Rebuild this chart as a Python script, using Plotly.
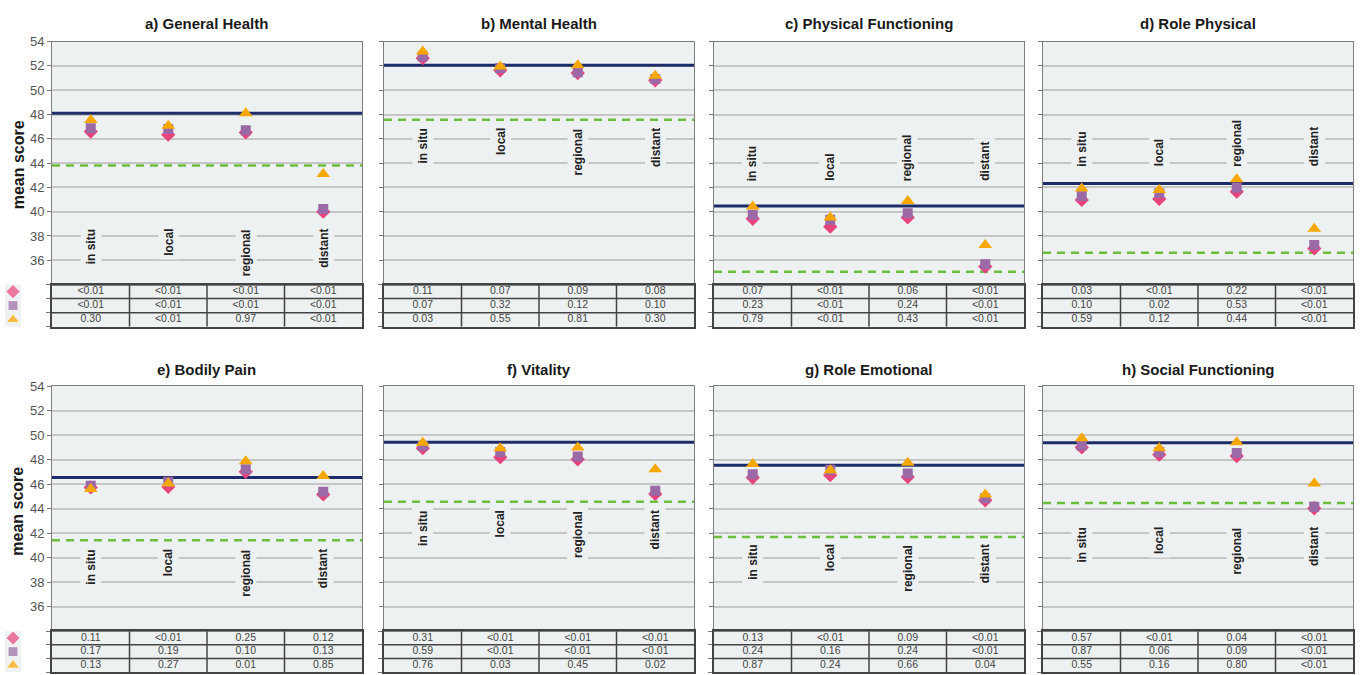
import plotly.graph_objects as go

categories = ["in situ", "local", "regional", "distant"]
panel_titles = ["a) General Health", "b) Mental Health", "c) Physical Functioning", "d) Role Physical",
                "e) Bodily Pain", "f) Vitality", "g) Role Emotional", "h) Social Functioning"]

navy_ref = [48.1, 52.05, 40.48, 42.32, 46.54, 49.42, 47.53, 49.37]
green_ref = [43.8, 47.57, 35.05, 36.62, 41.42, 44.57, 41.68, 44.46]

diamond_vals = [
    [46.6, 46.34, 46.53, 40.0],
    [52.64, 51.64, 51.42, 50.82],
    [39.42, 38.77, 39.53, 35.48],
    [40.97, 41.05, 41.65, 36.98],
    [45.73, 45.78, 47.0, 45.16],
    [48.93, 48.2, 48.02, 45.2],
    [46.54, 46.73, 46.59, 44.68],
    [48.99, 48.4, 48.29, 44.03],
]
square_vals = [
    [46.86, 46.8, 46.7, 40.23],
    [52.78, 51.83, 51.47, 50.93],
    [39.75, 39.34, 39.88, 35.67],
    [41.29, 41.51, 41.97, 37.25],
    [45.86, 46.19, 47.21, 45.38],
    [49.1, 48.61, 48.26, 45.46],
    [46.8, 47.18, 46.86, 44.84],
    [49.15, 48.61, 48.53, 44.16],
]
triangle_vals = [
    [47.54, 47.08, 48.1, 43.1],
    [53.19, 51.96, 52.05, 51.2],
    [40.42, 39.53, 40.89, 37.25],
    [41.92, 41.78, 42.68, 38.6],
    [45.6, 46.05, 47.86, 46.67],
    [49.37, 48.93, 48.99, 47.21],
    [47.64, 47.13, 47.75, 45.16],
    [49.74, 48.93, 49.42, 46.05],
]

p_diamond = [
    ["<0.01", "<0.01", "<0.01", "<0.01"],
    ["0.11", "0.07", "0.09", "0.08"],
    ["0.07", "<0.01", "0.06", "<0.01"],
    ["0.03", "<0.01", "0.22", "<0.01"],
    ["0.11", "<0.01", "0.25", "0.12"],
    ["0.31", "<0.01", "<0.01", "<0.01"],
    ["0.13", "<0.01", "0.09", "<0.01"],
    ["0.57", "<0.01", "0.04", "<0.01"],
]
p_square = [
    ["<0.01", "<0.01", "<0.01", "<0.01"],
    ["0.07", "0.32", "0.12", "0.10"],
    ["0.23", "<0.01", "0.24", "<0.01"],
    ["0.10", "0.02", "0.53", "<0.01"],
    ["0.17", "0.19", "0.10", "0.13"],
    ["0.59", "<0.01", "<0.01", "<0.01"],
    ["0.24", "0.16", "0.24", "<0.01"],
    ["0.87", "0.06", "0.09", "<0.01"],
]
p_triangle = [
    ["0.30", "<0.01", "0.97", "<0.01"],
    ["0.03", "0.55", "0.81", "0.30"],
    ["0.79", "<0.01", "0.43", "<0.01"],
    ["0.59", "0.12", "0.44", "<0.01"],
    ["0.13", "0.27", "0.01", "0.85"],
    ["0.76", "0.03", "0.45", "0.02"],
    ["0.87", "0.24", "0.66", "0.04"],
    ["0.55", "0.16", "0.80", "<0.01"],
]

y_ticks = [34, 36, 38, 40, 42, 44, 46, 48, 50, 52, 54]
y_tick_labels = ["", "36", "38", "40", "42", "44", "46", "48", "50", "52", "54"]

# ---- layout / style (not data) ----
W, H = 1362, 675
FONT = "Liberation Sans, Arial, sans-serif"
BG = "#EEF1F1"
C_DIAMOND = "#E8437D"
C_SQUARE = "#9B6AA6"
C_TRIANGLE = "#F6A800"
C_NAVY = "#1F2C6B"
C_GREEN = "#6DBE3C"

col_px = [(52, 362), (384, 694), (714, 1024), (1043, 1353)]
row_px = [  # (plot top, plot bottom, table bottom)
    (35, 280.5, 323),
    (383, 630.8, 672),
]
label_y = [38.9, 47.2, 42.2, 43.4, 41.0, 44.16, 41.4, 42.8]
label_anchor = ["top", "top", "bottom", "bottom", "top", "top", "top", "top"]
title_py = [17, 366]
ylabel_py = [160, 510]
legend_px = (5, 21)


def py(p):
    return 1 - p / H


fig = go.Figure()
layout = {}
annotations = []
shapes = []
xs = list(range(len(categories)))
next_axis = 17

for i in range(8):
    r, c = divmod(i, 4)
    x0, x1 = col_px[c]
    top, bot, tbot = row_px[r]
    a_main = 2 * i + 1
    a_tab = 2 * i + 2
    xm = "x" if a_main == 1 else f"x{a_main}"
    ym = "y" if a_main == 1 else f"y{a_main}"
    xt, yt = f"x{a_tab}", f"y{a_tab}"
    kxm = "xaxis" if a_main == 1 else f"xaxis{a_main}"
    kym = "yaxis" if a_main == 1 else f"yaxis{a_main}"
    kxt, kyt = f"xaxis{a_tab}", f"yaxis{a_tab}"
    xdom = [x0 / W, x1 / W]

    layout[kxm] = dict(domain=xdom, range=[-0.5, 3.5], anchor=ym, showgrid=False,
                       zeroline=False, showticklabels=False, ticks="",
                       showline=True, mirror=True, linecolor="#7E7E7E", linewidth=1)
    layout[kym] = dict(domain=[py(bot), py(top)], range=[34, 54], anchor=xm,
                       tickmode="array", tickvals=y_ticks,
                       ticktext=y_tick_labels if c == 0 else [""] * len(y_ticks),
                       showticklabels=True, ticks="outside", ticklen=4, tickcolor="#777",
                       tickfont=dict(family=FONT, size=13, color="#555"),
                       showgrid=True, gridcolor="#C6C6C6", gridwidth=1.5, zeroline=False,
                       showline=True, mirror=True, linecolor="#7E7E7E", linewidth=1)
    layout[kxt] = dict(domain=xdom, range=[-0.5, 3.5], anchor=yt, showgrid=False,
                       zeroline=False, showticklabels=False, ticks="",
                       showline=True, mirror=True, linecolor="#444", linewidth=1.5)
    layout[kyt] = dict(domain=[py(tbot), py(bot)], range=[0, 3], anchor=xt,
                       tickvals=[0, 1, 2, 3], showticklabels=False, ticks="outside",
                       ticklen=4, tickcolor="#777", showgrid=False, zeroline=False,
                       showline=True, mirror=True, linecolor="#444", linewidth=1.5)

    # reference lines
    fig.add_trace(go.Scatter(x=[-0.5, 3.5], y=[green_ref[i]] * 2, mode="lines",
                             line=dict(color=C_GREEN, width=2.5, dash="8px,6px"),
                             xaxis=xm, yaxis=ym, hoverinfo="skip"))
    fig.add_trace(go.Scatter(x=[-0.5, 3.5], y=[navy_ref[i]] * 2, mode="lines",
                             line=dict(color=C_NAVY, width=3),
                             xaxis=xm, yaxis=ym, hoverinfo="skip"))
    # points
    fig.add_trace(go.Scatter(x=xs, y=diamond_vals[i], mode="markers",
                             marker=dict(symbol="diamond", size=11, color=C_DIAMOND),
                             xaxis=xm, yaxis=ym))
    fig.add_trace(go.Scatter(x=xs, y=square_vals[i], mode="markers",
                             marker=dict(symbol="square", size=10, color=C_SQUARE),
                             xaxis=xm, yaxis=ym))
    fig.add_trace(go.Scatter(x=xs, y=triangle_vals[i], mode="markers",
                             marker=dict(symbol="triangle-up", size=12, color=C_TRIANGLE),
                             xaxis=xm, yaxis=ym))

    # table text
    tx, ty, tt = [], [], []
    for rowy, rowvals in ((2.5, p_diamond[i]), (1.5, p_square[i]), (0.5, p_triangle[i])):
        for k, v in enumerate(rowvals):
            tx.append(k)
            ty.append(rowy)
            tt.append(v)
    fig.add_trace(go.Scatter(x=tx, y=ty, text=tt, mode="text",
                             textfont=dict(family=FONT, size=10.5, color="#444"),
                             xaxis=xt, yaxis=yt, hoverinfo="skip"))
    # table grid lines
    for gy in (1, 2):
        shapes.append(dict(type="line", xref=xt, yref=yt, x0=-0.5, x1=3.5, y0=gy, y1=gy,
                           line=dict(color="#444", width=1.5)))
    for gx in (0.5, 1.5, 2.5):
        shapes.append(dict(type="line", xref=xt, yref=yt, x0=gx, x1=gx, y0=0, y1=3,
                           line=dict(color="#444", width=1.5)))

    # legend symbols at table left (own small axis)
    if c == 0:
        kxl, kyl = f"xaxis{next_axis}", f"yaxis{next_axis}"
        xl, yl = f"x{next_axis}", f"y{next_axis}"
        layout[kxl] = dict(domain=[legend_px[0] / W, legend_px[1] / W], range=[0, 1],
                           anchor=yl, visible=False)
        layout[kyl] = dict(domain=[py(tbot), py(bot)], range=[0, 3], anchor=xl,
                           visible=False)
        fig.add_trace(go.Scatter(x=[0.5, 0.5, 0.5], y=[2.5, 1.5, 0.5], mode="markers",
                                 marker=dict(symbol=["diamond", "square", "triangle-up"],
                                             size=[11, 10, 12],
                                             color=[C_DIAMOND, C_SQUARE, C_TRIANGLE]),
                                 xaxis=xl, yaxis=yl, cliponaxis=False, hoverinfo="skip"))
        next_axis += 1

    # category labels
    for k, cat in enumerate(categories):
        annotations.append(dict(x=k, y=label_y[i], xref=xm, yref=ym, text=f"<b>{cat}</b>",
                                textangle=-90, showarrow=False, xanchor="center",
                                yanchor=label_anchor[i], bgcolor=BG, borderpad=3,
                                font=dict(family=FONT, size=12, color="#222")))
    # title
    annotations.append(dict(x=(x0 + x1) / 2 / W, y=py(title_py[r]), xref="paper", yref="paper",
                            text=f"<b>{panel_titles[i]}</b>", showarrow=False,
                            xanchor="center", yanchor="middle",
                            font=dict(family=FONT, size=15, color="#1a1a1a")))

for r in range(2):
    annotations.append(dict(x=18 / W, y=py(ylabel_py[r]), xref="paper", yref="paper",
                            text="<b>mean score</b>", textangle=-90, showarrow=False,
                            xanchor="center", yanchor="middle",
                            font=dict(family=FONT, size=16, color="#1a1a1a")))

fig.update_layout(**layout)
fig.update_layout(width=W, height=H, margin=dict(l=0, r=0, t=0, b=0),
                  paper_bgcolor="white", plot_bgcolor=BG, showlegend=False,
                  annotations=annotations, shapes=shapes,
                  font=dict(family=FONT))

pin_script = (
    "document.body.style.margin='0';document.body.style.overflow='hidden';"
    "var d=document.getElementById('{plot_id}');"
    "d.style.position='fixed';d.style.left='0px';d.style.top='0px';"
)
fig.write_html("out.html", post_script=pin_script, config={"displayModeBar": False})
